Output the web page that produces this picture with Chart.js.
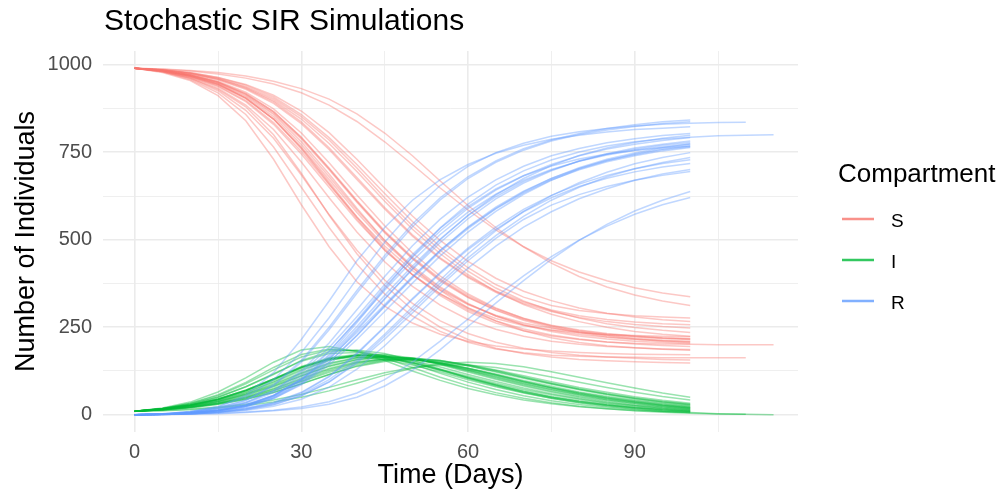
<!DOCTYPE html>
<html>
<head>
<meta charset="utf-8">
<title>Stochastic SIR Simulations</title>
<script src="https://cdn.jsdelivr.net/npm/chart.js@4.4.0/dist/chart.umd.min.js"></script>
<style>
  html, body { margin: 0; padding: 0; background: #ffffff; }
  #wrap { width: 998px; height: 495px; }
</style>
</head>
<body>
<div id="wrap"><canvas id="sirChart" width="998" height="495"></canvas></div>
<script>
// time points (days) shared by every run
var days = [0, 5, 10, 15, 20, 25, 30, 35, 40, 45, 50, 55, 60, 65, 70, 75, 80, 85, 90, 95, 100, 105, 110, 115];

var compartments = ["S", "I", "R"];
var colours = ["#F8766D", "#00BA38", "#619CFF"];

var xTicks = [0, 15, 30, 45, 60, 75, 90, 105];
var xLabels = [0, 30, 60, 90];
var yTicks = [0, 125, 250, 375, 500, 625, 750, 875, 1000];
var yLabels = [0, 250, 500, 750, 1000];

// one row per simulated run
var susceptible = [
  [990, 980, 962, 930, 880, 800, 690, 570, 460, 370, 300, 250, 215, 190, 175, 165, 158, 154, 151, 149, 148],
  [990, 978, 955, 912, 840, 730, 600, 480, 380, 310, 262, 230, 210, 196, 188, 182, 178, 175, 173, 172, 171],
  [990, 983, 968, 945, 905, 845, 760, 660, 560, 470, 400, 345, 300, 268, 245, 228, 216, 208, 202, 198, 195],
  [990, 984, 971, 950, 915, 862, 788, 700, 607, 520, 445, 382, 335, 298, 270, 249, 234, 223, 216, 210, 206],
  [990, 985, 976, 960, 935, 898, 845, 775, 695, 610, 530, 460, 400, 352, 315, 287, 266, 250, 238, 230, 224],
  [990, 985, 976, 961, 938, 903, 852, 785, 705, 620, 540, 470, 410, 362, 325, 297, 276, 260, 249, 241, 235],
  [990, 987, 982, 974, 962, 945, 920, 885, 838, 780, 715, 648, 585, 528, 480, 440, 408, 383, 363, 348, 337],
  [990, 985, 977, 964, 944, 913, 868, 806, 730, 648, 568, 498, 438, 390, 353, 326, 305, 290, 279, 271, 266],
  [990, 988, 984, 978, 968, 953, 932, 902, 860, 805, 740, 668, 598, 535, 480, 433, 395, 365, 342, 325, 312],
  [990, 981, 961, 926, 870, 790, 685, 572, 470, 385, 318, 268, 232, 207, 190, 178, 170, 165, 161, 158, 156],
  [990, 982, 965, 938, 895, 830, 745, 650, 555, 470, 400, 345, 305, 275, 255, 242, 234, 229, 226, 224, 223],
  [990, 984, 970, 948, 912, 858, 780, 688, 590, 498, 420, 355, 305, 268, 240, 220, 206, 197, 191, 187, 184],
  [990, 985, 974, 957, 930, 890, 832, 758, 672, 588, 510, 445, 392, 350, 318, 295, 278, 266, 258, 252, 248],
  [990, 983, 968, 944, 905, 845, 762, 665, 565, 475, 400, 340, 295, 262, 240, 225, 215, 208, 204, 202, 201, 200, 200, 200],
  [990, 980, 958, 920, 858, 765, 650, 535, 430, 345, 282, 238, 207, 188, 177, 170, 167, 165, 164, 163, 163, 163, 163],
  [990, 986, 978, 964, 942, 908, 858, 792, 715, 632, 552, 480, 420, 372, 336, 312, 298, 289, 283, 279, 276],
  [990, 982, 966, 940, 898, 835, 752, 658, 565, 482, 412, 357, 315, 284, 262, 247, 236, 228, 222, 218, 215],
  [990, 984, 971, 951, 918, 866, 792, 703, 610, 522, 447, 385, 336, 300, 273, 254, 240, 230, 224, 219, 216],
  [990, 983, 969, 946, 908, 852, 772, 680, 585, 498, 425, 365, 318, 282, 256, 238, 225, 216, 210, 206, 203],
  [990, 984, 972, 953, 922, 874, 805, 720, 628, 540, 462, 396, 345, 305, 275, 253, 237, 226, 218, 213, 210],
  [990, 982, 967, 943, 904, 845, 765, 672, 578, 492, 420, 362, 316, 282, 258, 241, 229, 221, 215, 211, 208],
  [990, 983, 970, 950, 917, 866, 793, 705, 612, 525, 450, 388, 340, 303, 276, 256, 242, 232, 225, 220, 217],
  [990, 981, 963, 933, 885, 815, 722, 620, 522, 437, 367, 313, 272, 244, 224, 210, 201, 195, 191, 188, 186],
  [990, 985, 975, 959, 933, 894, 837, 763, 678, 592, 514, 448, 395, 354, 322, 299, 283, 272, 265, 260, 257]
];

var infected = [
  [10, 17, 30, 50, 80, 115, 155, 180, 185, 175, 155, 130, 105, 85, 65, 50, 38, 28, 20, 14, 10],
  [10, 19, 36, 65, 105, 150, 185, 195, 180, 155, 125, 98, 75, 57, 42, 31, 23, 17, 12, 9, 6],
  [10, 16, 27, 43, 68, 100, 135, 160, 170, 165, 150, 130, 110, 90, 72, 57, 44, 33, 25, 18, 13],
  [10, 15, 24, 37, 57, 82, 112, 140, 158, 165, 160, 148, 130, 112, 93, 76, 60, 47, 36, 27, 20],
  [10, 14, 21, 32, 48, 70, 97, 125, 148, 160, 162, 155, 140, 122, 104, 87, 71, 57, 45, 35, 27],
  [10, 14, 21, 32, 47, 68, 94, 121, 144, 156, 160, 154, 142, 126, 108, 90, 74, 60, 48, 38, 30],
  [10, 12, 16, 22, 30, 42, 58, 78, 100, 120, 135, 142, 142, 135, 123, 108, 93, 78, 64, 52, 42],
  [10, 14, 20, 30, 44, 63, 88, 115, 140, 155, 160, 155, 143, 128, 111, 94, 78, 64, 51, 41, 33],
  [10, 11, 14, 19, 26, 36, 50, 68, 90, 113, 133, 146, 150, 146, 137, 123, 107, 91, 76, 62, 50],
  [10, 18, 32, 54, 88, 128, 165, 185, 183, 168, 145, 118, 93, 72, 54, 40, 29, 21, 15, 10, 7],
  [10, 17, 28, 45, 70, 102, 135, 158, 165, 158, 142, 122, 100, 80, 62, 47, 35, 26, 19, 13, 9],
  [10, 16, 26, 41, 63, 92, 126, 155, 170, 172, 162, 145, 125, 104, 85, 68, 53, 41, 31, 23, 17],
  [10, 15, 22, 34, 51, 75, 104, 132, 152, 160, 158, 148, 132, 114, 95, 78, 63, 50, 39, 30, 23],
  [10, 16, 27, 44, 70, 102, 138, 163, 172, 165, 148, 126, 103, 82, 63, 47, 34, 24, 16, 10, 6, 3, 1, 0],
  [10, 18, 33, 57, 92, 135, 172, 188, 182, 162, 135, 107, 83, 63, 47, 34, 24, 17, 11, 7, 4, 2, 1],
  [10, 14, 20, 30, 44, 64, 88, 115, 138, 152, 157, 152, 140, 124, 106, 89, 73, 59, 47, 37, 29],
  [10, 17, 28, 45, 70, 102, 136, 160, 168, 162, 148, 128, 106, 86, 68, 52, 40, 30, 22, 16, 11],
  [10, 15, 25, 39, 60, 88, 120, 148, 163, 167, 160, 145, 127, 107, 88, 71, 56, 43, 33, 24, 18],
  [10, 16, 26, 42, 65, 95, 130, 157, 170, 170, 160, 143, 122, 101, 82, 65, 50, 38, 28, 21, 15],
  [10, 15, 23, 36, 55, 80, 110, 138, 157, 165, 162, 150, 133, 114, 95, 77, 61, 48, 37, 28, 21],
  [10, 17, 27, 44, 68, 100, 135, 160, 170, 167, 155, 136, 115, 95, 76, 60, 46, 35, 26, 19, 14],
  [10, 16, 25, 38, 59, 85, 117, 145, 162, 166, 160, 146, 128, 109, 90, 73, 58, 45, 35, 26, 19],
  [10, 18, 30, 50, 80, 117, 153, 175, 178, 168, 150, 128, 106, 85, 66, 50, 38, 28, 20, 14, 10],
  [10, 14, 22, 33, 50, 73, 101, 129, 149, 158, 157, 148, 133, 116, 98, 81, 65, 52, 41, 32, 25]
];

var recovered = [
  [0, 3, 8, 20, 40, 85, 155, 250, 355, 455, 545, 620, 680, 725, 760, 785, 804, 818, 829, 837, 842],
  [0, 3, 9, 23, 55, 120, 215, 325, 440, 535, 613, 672, 715, 747, 770, 787, 799, 808, 815, 819, 823],
  [0, 1, 5, 12, 27, 55, 105, 180, 270, 365, 450, 525, 590, 642, 683, 715, 740, 759, 773, 784, 792],
  [0, 1, 5, 13, 28, 56, 100, 160, 235, 315, 395, 470, 535, 590, 637, 675, 706, 730, 748, 763, 774],
  [0, 1, 3, 8, 17, 32, 58, 100, 157, 230, 308, 385, 460, 526, 581, 626, 663, 693, 717, 735, 749],
  [0, 1, 3, 7, 15, 29, 54, 94, 151, 224, 300, 376, 448, 512, 567, 613, 650, 680, 703, 721, 735],
  [0, 1, 2, 4, 8, 13, 22, 37, 62, 100, 150, 210, 273, 337, 397, 452, 499, 539, 573, 600, 621],
  [0, 1, 3, 6, 12, 24, 44, 79, 130, 197, 272, 347, 419, 482, 536, 580, 617, 646, 670, 688, 701],
  [0, 1, 2, 3, 6, 11, 18, 30, 50, 82, 127, 186, 252, 319, 383, 444, 498, 544, 582, 613, 638],
  [0, 1, 7, 20, 42, 82, 150, 243, 347, 447, 537, 614, 675, 721, 756, 782, 801, 814, 824, 832, 837],
  [0, 1, 7, 17, 35, 68, 120, 192, 280, 372, 458, 533, 595, 645, 683, 711, 731, 745, 755, 763, 768],
  [0, 0, 4, 11, 25, 50, 94, 157, 240, 330, 418, 500, 570, 628, 675, 712, 741, 762, 778, 790, 799],
  [0, 0, 4, 9, 19, 35, 64, 110, 176, 252, 332, 407, 476, 536, 587, 627, 659, 684, 703, 718, 729],
  [0, 1, 5, 12, 25, 53, 100, 172, 263, 360, 452, 534, 602, 656, 697, 728, 751, 768, 780, 788, 793, 797, 799, 800],
  [0, 2, 9, 23, 50, 100, 178, 277, 388, 493, 583, 655, 710, 749, 776, 796, 809, 818, 825, 830, 833, 835, 836],
  [0, 0, 2, 6, 14, 28, 54, 93, 147, 216, 291, 368, 440, 504, 558, 599, 629, 652, 670, 684, 695],
  [0, 1, 6, 15, 32, 63, 112, 182, 267, 356, 440, 515, 579, 630, 670, 701, 724, 742, 756, 766, 774],
  [0, 1, 4, 10, 22, 46, 88, 149, 227, 311, 393, 470, 537, 593, 639, 675, 704, 727, 743, 757, 766],
  [0, 1, 5, 12, 27, 53, 98, 163, 245, 332, 415, 492, 560, 617, 662, 697, 725, 746, 762, 773, 782],
  [0, 1, 5, 11, 23, 46, 85, 142, 215, 295, 376, 454, 522, 581, 630, 670, 702, 726, 745, 759, 769],
  [0, 1, 6, 13, 28, 55, 100, 168, 252, 341, 425, 502, 569, 623, 666, 699, 725, 744, 759, 770, 778],
  [0, 1, 5, 12, 24, 49, 90, 150, 226, 309, 390, 466, 532, 588, 634, 671, 700, 723, 740, 754, 764],
  [0, 1, 7, 17, 35, 68, 125, 205, 300, 395, 483, 559, 622, 671, 710, 740, 761, 777, 789, 798, 804],
  [0, 1, 3, 8, 17, 33, 62, 108, 173, 250, 329, 404, 472, 530, 580, 620, 652, 676, 694, 708, 718]
];

var FONT = '"Liberation Sans", Arial, Helvetica, sans-serif';

function rgba(hex, a) {
  var n = parseInt(hex.slice(1), 16);
  return "rgba(" + ((n >> 16) & 255) + "," + ((n >> 8) & 255) + "," + (n & 255) + "," + a + ")";
}

// one dataset per run and compartment
var datasets = [];
[susceptible, infected, recovered].forEach(function (runs, c) {
  runs.forEach(function (run) {
    datasets.push({
      label: compartments[c],
      data: run.map(function (v, i) { return { x: days[i], y: v }; }),
      borderColor: rgba(colours[c], 0.4),
      borderWidth: 1.5,
      pointRadius: 0,
      tension: 0,
      order: 2 - c
    });
  });
});

// plot title, left aligned on the panel like ggplot
var plotTitle = {
  id: "plotTitle",
  afterDraw: function (chart) {
    var ctx = chart.ctx;
    ctx.save();
    ctx.font = "30px " + FONT;
    ctx.fillStyle = "#000000";
    ctx.textBaseline = "alphabetic";
    ctx.fillText("Stochastic SIR Simulations", chart.chartArea.left + 1, 30);
    ctx.restore();
  }
};

// legend with line keys
var ggLegend = {
  id: "ggLegend",
  afterDraw: function (chart) {
    var ctx = chart.ctx;
    var left = chart.chartArea.right + 40;
    ctx.save();
    ctx.fillStyle = "#000000";
    ctx.textBaseline = "alphabetic";
    ctx.font = "26px " + FONT;
    ctx.fillText("Compartment", left, 182);
    compartments.forEach(function (name, i) {
      var y = 219 + i * 41;
      ctx.strokeStyle = rgba(colours[i], 0.8);
      ctx.lineWidth = 2.5;
      ctx.beginPath();
      ctx.moveTo(left + 4, y);
      ctx.lineTo(left + 36, y);
      ctx.stroke();
      ctx.font = "19px " + FONT;
      ctx.fillText(name, left + 53, y + 8);
    });
    ctx.restore();
  }
};

var ctx = document.getElementById("sirChart").getContext("2d");
var sirChart = new Chart(ctx, {
  type: "line",
  data: { datasets: datasets },
  plugins: [plotTitle, ggLegend],
  options: {
    responsive: false,
    animation: false,
    devicePixelRatio: 1,
    layout: { padding: { top: 51, right: 200, bottom: 0, left: 0 } },
    plugins: {
      legend: { display: false },
      tooltip: { enabled: false }
    },
    scales: {
      x: {
        type: "linear",
        min: -5.7,
        max: 119.4,
        afterBuildTicks: function (scale) {
          scale.ticks = xTicks.map(function (v) { return { value: v }; });
        },
        afterFit: function (scale) { scale.height = 63; },
        border: { display: false },
        grid: {
          color: "#EBEBEB",
          drawTicks: false,
          lineWidth: function (c) { return xLabels.indexOf(c.tick.value) >= 0 ? 1.6 : 0.8; }
        },
        ticks: {
          padding: 8,
          color: "#4D4D4D",
          font: { size: 20, family: FONT },
          maxRotation: 0,
          autoSkip: false,
          callback: function (v) { return xLabels.indexOf(v) >= 0 ? String(v) : ""; }
        },
        title: {
          display: true,
          text: "Time (Days)",
          color: "#000000",
          font: { size: 27, family: FONT },
          padding: { top: 0, bottom: 3 }
        }
      },
      y: {
        type: "linear",
        min: -49.5,
        max: 1039.5,
        afterBuildTicks: function (scale) {
          scale.ticks = yTicks.map(function (v) { return { value: v }; });
        },
        afterFit: function (scale) { scale.width = 103; },
        border: { display: false },
        grid: {
          color: "#EBEBEB",
          drawTicks: false,
          lineWidth: function (c) { return yLabels.indexOf(c.tick.value) >= 0 ? 1.6 : 0.8; }
        },
        ticks: {
          padding: 11,
          color: "#4D4D4D",
          font: { size: 20, family: FONT },
          autoSkip: false,
          callback: function (v) { return yLabels.indexOf(v) >= 0 ? String(v) : ""; }
        },
        title: {
          display: true,
          text: "Number of Individuals",
          color: "#000000",
          font: { size: 27, family: FONT },
          padding: { top: 10, bottom: 0 }
        }
      }
    }
  }
});
</script>
</body>
</html>
